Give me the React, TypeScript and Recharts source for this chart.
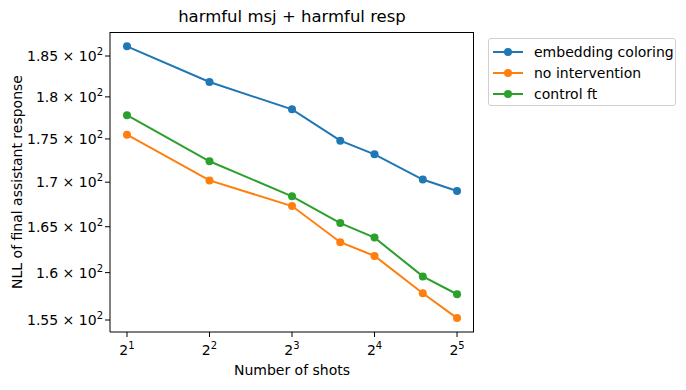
import React from "react";
import { LineChart, Line, XAxis, YAxis } from "recharts";

const FONT = "'DejaVu Sans', sans-serif";

const shots = [2, 4, 8, 12, 16, 24, 32];
const embeddingColoring = [186.2, 181.8, 178.5, 174.8, 173.2, 170.3, 169.0];
const noIntervention = [175.5, 170.2, 167.3, 163.3, 161.8, 157.8, 155.2];
const controlFt = [177.8, 172.4, 168.4, 165.4, 163.8, 159.6, 157.7];

const xTicks = [2, 4, 8, 16, 32];
const yTicks = [155, 160, 165, 170, 175, 180, 185];

const series = [
  { key: "embedding", name: "embedding coloring", color: "#1f77b4", values: embeddingColoring },
  { key: "none", name: "no intervention", color: "#ff7f0e", values: noIntervention },
  { key: "control", name: "control ft", color: "#2ca02c", values: controlFt },
];

const data = shots.map((s, i) => ({
  shots: s,
  embedding: embeddingColoring[i],
  none: noIntervention[i],
  control: controlFt[i],
}));

const XTick = (props: any) => {
  const { x, y, payload } = props;
  const exp = Math.round(Math.log2(payload.value));
  return (
    <text x={x} y={y + 16} textAnchor="middle" fill="#000" fontSize={14} fontFamily={FONT}>
      <tspan>2</tspan>
      <tspan dy={-6} fontSize={10}>{exp}</tspan>
    </text>
  );
};

const YTick = (props: any) => {
  const { x, y, payload } = props;
  const m = String(payload.value / 100);
  return (
    <text x={x} y={y + 5} textAnchor="end" fill="#000" fontSize={14} fontFamily={FONT}>
      <tspan>{m} × 10</tspan>
      <tspan dy={-6} fontSize={10}>2</tspan>
    </text>
  );
};

export default function App() {
  return (
    <div style={{ position: "absolute", left: 0, top: 0, width: 686, height: 390, background: "#fff", fontFamily: FONT }}>
      <LineChart width={686} height={390} data={data} margin={{ top: 32, right: 212, bottom: 0, left: 0 }}>
        <XAxis
          dataKey="shots"
          type="number"
          scale="log"
          domain={[1.734, 36.9]}
          ticks={xTicks}
          tick={<XTick />}
          tickSize={5}
          height={58}
          stroke="#000"
          allowDataOverflow
        />
        <YAxis
          type="number"
          scale="log"
          domain={[153.76, 188.0]}
          ticks={yTicks}
          tick={<YTick />}
          tickSize={5}
          width={110}
          stroke="#000"
          allowDataOverflow
        />
        {series.map((s) => (
          <Line
            key={s.key}
            dataKey={s.key}
            name={s.name}
            stroke={s.color}
            strokeWidth={2}
            dot={{ r: 4, fill: s.color, stroke: "none" }}
            activeDot={false}
            isAnimationActive={false}
          />
        ))}
      </LineChart>

      {/* top/right spines */}
      <div
        style={{
          position: "absolute",
          left: 110,
          top: 32,
          width: 364,
          height: 300,
          borderTop: "1px solid #000",
          borderRight: "1px solid #000",
          boxSizing: "border-box",
          pointerEvents: "none",
        }}
      />

      <div style={{ position: "absolute", left: 110, width: 364, top: 7, textAlign: "center", fontSize: 16.5, color: "#000" }}>
        harmful msj + harmful resp
      </div>
      <div style={{ position: "absolute", left: 110, width: 364, top: 362, textAlign: "center", fontSize: 14, color: "#000" }}>
        Number of shots
      </div>
      <div
        style={{
          position: "absolute",
          left: 17,
          top: 182,
          transform: "translate(-50%, -50%) rotate(-90deg)",
          whiteSpace: "nowrap",
          fontSize: 14,
          color: "#000",
        }}
      >
        NLL of final assistant response
      </div>

      <div
        style={{
          position: "absolute",
          left: 488,
          top: 38,
          width: 188,
          height: 68,
          border: "1px solid #d0d0d0",
          borderRadius: 3,
          boxSizing: "border-box",
        }}
      >
        {series.map((s, i) => (
          <div
            key={s.key}
            style={{ position: "absolute", left: 3, top: 4 + i * 21, height: 18, display: "flex", alignItems: "center", whiteSpace: "nowrap" }}
          >
            <svg width={32} height={18}>
              <line x1={1} y1={9} x2={31} y2={9} stroke={s.color} strokeWidth={2} />
              <circle cx={16} cy={9} r={4} fill={s.color} />
            </svg>
            <span style={{ marginLeft: 10, fontSize: 14, color: "#000" }}>{s.name}</span>
          </div>
        ))}
      </div>
    </div>
  );
}
